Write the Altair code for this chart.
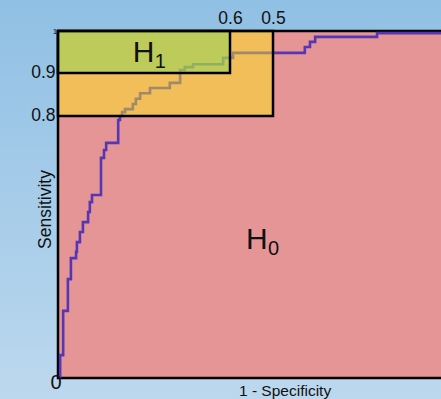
import altair as alt
import pandas as pd

# ROC curve: corner points (1 - specificity, sensitivity), drawn as step-after
fpr = [0.005, 0.005, 0.012, 0.023, 0.030, 0.042, 0.044, 0.051, 0.058, 0.070, 0.074, 0.079,
       0.100, 0.107, 0.112, 0.140, 0.144, 0.149, 0.156, 0.174, 0.181, 0.191, 0.214, 0.260,
       0.284, 0.295, 0.314, 0.384, 0.407, 0.574, 0.586, 0.598, 0.742, 1.000]
tpr = [0.0, 0.070, 0.205, 0.302, 0.366, 0.385, 0.415, 0.446, 0.476, 0.507, 0.537, 0.559,
       0.672, 0.696, 0.718, 0.788, 0.800, 0.809, 0.816, 0.828, 0.840, 0.853, 0.865, 0.877,
       0.907, 0.914, 0.921, 0.936, 0.948, 0.962, 0.974, 0.986, 0.995, 0.995]

# hypothesis regions
region_name = ["H0", "Sens>=0.8", "H1"]
region_x0 = [0.0, 0.0, 0.0]
region_x1 = [1.0, 0.5, 0.4]
region_y0 = [0.0, 0.8, 0.9]
region_y1 = [1.0, 1.0, 1.0]

# tick labels
y_ticks = [0.8, 0.9]
top_ticks_fpr = [0.4, 0.5]          # shown as specificity 0.6 / 0.5

# hypothesis labels
h_text = ["H", "H"]
h_sub = ["1", "0"]
h_x = [0.174, 0.437]
h_y = [0.926, 0.394]

FONT = "Liberation Sans"

roc = pd.DataFrame({"fpr": fpr, "tpr": tpr, "i": list(range(len(fpr)))})
regions = pd.DataFrame({"name": region_name, "x0": region_x0, "x1": region_x1,
                        "y0": region_y0, "y1": region_y1})
hlab = pd.DataFrame({"t": h_text, "s": h_sub, "x": h_x, "y": h_y})

# the full [0, 1] range spans 430 px; the visible view is cropped at 383 px
XS = alt.Scale(domain=[0, 1], range=[0, 430], nice=False, zero=False)
YS = alt.Scale(domain=[0, 0.8, 0.9, 1], range=[347, 85, 42, 0], nice=False, zero=False)

XAX = alt.Axis(orient="top", values=top_ticks_fpr,
               labelExpr="format(1 - datum.value, '.1f')",
               ticks=False, domain=False, grid=False, labelPadding=4,
               labelFontSize=17.5, labelColor="#111111", labelFont=FONT, title="",
               zindex=2)
YAX = alt.Axis(values=y_ticks, format=".1f", ticks=False, domain=False, grid=False,
               labelPadding=3, labelFontSize=17.5, labelColor="#111111", labelFont=FONT,
               labelOffset=-1,
               title="Sensitivity", titleFontSize=17.5, titleFontWeight="normal",
               titleColor="#111111", titleFont=FONT,
               titleX=-13, titleY=178, titleAngle=270,
               titleBaseline="middle", titleAlign="center", zindex=2)


def X(f):
    return alt.X(f, type="quantitative", scale=XS, axis=XAX)


def Y(f):
    return alt.Y(f, type="quantitative", scale=YS, axis=YAX)


one = pd.DataFrame({"k": [0]})

bg = alt.Chart(one).mark_rect(
    fill=alt.Gradient(gradient="linear", x1=0, y1=0, x2=0, y2=1,
                      stops=[alt.GradientStop(offset=0, color="#90c0e4"),
                             alt.GradientStop(offset=1, color="#bcd8ee")])
).encode(x=alt.value(-58), x2=alt.value(430), y=alt.value(-31), y2=alt.value(368))

red = alt.Chart(regions).transform_filter("datum.name == 'H0'").mark_rect(
    fill="#e59595", stroke="black", strokeWidth=2.5
).encode(x=X("x0"), x2="x1", y=Y("y0"), y2="y1")

line = alt.Chart(roc).mark_line(
    interpolate="step-after", color="#5636b2", strokeWidth=2.6
).encode(x=X("fpr"), y=Y("tpr"), order="i:Q")

overlays = alt.Chart(regions).transform_filter("datum.name != 'H0'").mark_rect(
    fillOpacity=0.45, stroke="black", strokeWidth=2.5
).encode(
    x=X("x0"), x2="x1", y=Y("y0"), y2="y1",
    fill=alt.Fill("name:N", scale=alt.Scale(domain=["Sens>=0.8", "H1"],
                                            range=["#fff012", "#7cdc58"]), legend=None),
)

h_big = alt.Chart(hlab).mark_text(
    align="left", baseline="alphabetic", fontSize=30, font=FONT, color="#111111"
).encode(x=X("x"), y=Y("y"), text="t:N")

h_small = alt.Chart(hlab).mark_text(
    align="left", baseline="alphabetic", fontSize=20, font=FONT, color="#111111",
    dx=22, dy=6
).encode(x=X("x"), y=Y("y"), text="s:N")

corner0 = alt.Chart(pd.DataFrame({"x": [0.0], "y": [0.0], "t": ["0"]})).mark_text(
    align="center", baseline="middle", fontSize=20, font=FONT, color="#111111",
    dx=-2, dy=5
).encode(x=X("x"), y=Y("y"), text="t:N")

corner1 = alt.Chart(pd.DataFrame({"x": [0.0], "y": [1.0], "t": ["1"]})).mark_text(
    align="center", baseline="middle", fontSize=8, font=FONT, color="#111111",
    dx=-3, dy=1
).encode(x=X("x"), y=Y("y"), text="t:N")

xtitle = alt.Chart(pd.DataFrame({"x": [0.528], "y": [0.0], "t": ["1 - Specificity"]})).mark_text(
    align="center", baseline="alphabetic", fontSize=15.5, font=FONT, color="#111111", dy=18
).encode(x=X("x"), y=Y("y"), text="t:N")

chart = alt.layer(
    bg, red, line, overlays, h_big, h_small, corner0, corner1, xtitle
).properties(
    width=383, height=347,
    autosize=alt.AutoSizeParams(type="none"),
    padding={"left": 58, "top": 31, "right": 0, "bottom": 21},
    background="#a6cbe9",
).configure(font=FONT).configure_view(strokeWidth=0)

chart.save("out.html", embed_options={
    "renderer": "svg", "actions": False,
    "defaultStyle": "body{margin:0;overflow:hidden;}",
})
